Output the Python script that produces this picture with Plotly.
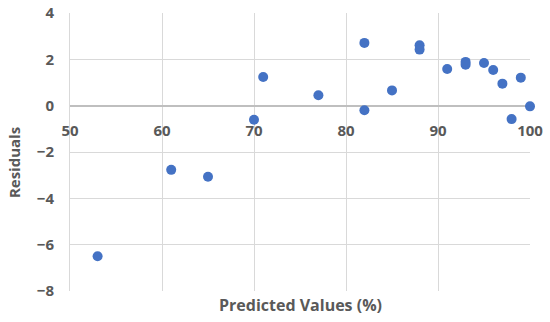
import plotly.graph_objects as go

predicted = [53, 61, 65, 70, 71, 77, 82, 82, 85, 88, 88, 91, 93, 93, 95, 96, 97, 98, 99, 100]
residuals = [-6.5, -2.77, -3.07, -0.61, 1.24, 0.45, 2.71, -0.2, 0.66, 2.61, 2.42, 1.58, 1.89, 1.77, 1.84, 1.54, 0.95, -0.58, 1.21, -0.03]
x_ticks = [50, 60, 70, 80, 90, 100]
y_ticks = [-8, -6, -4, -2, 0, 2, 4]

font_family = "Open Sans"
text_color = "#595959"
grid_color = "#d9d9d9"

fig = go.Figure()
fig.add_trace(go.Scatter(
    x=predicted, y=residuals, mode="markers",
    marker=dict(color="#4472C4", size=10),
    showlegend=False, cliponaxis=False,
))

y_min, y_max = -8, 4
fig.update_layout(
    template="none",
    width=550, height=322,
    margin=dict(l=70, r=20, t=13, b=31, autoexpand=False),
    paper_bgcolor="white", plot_bgcolor="white",
    xaxis=dict(
        range=[50, 100], tickvals=x_ticks, automargin=False,
        ticklabeloverflow="allow",
        anchor="free", position=(0 - y_min) / (y_max - y_min),
        showgrid=True, gridcolor=grid_color, gridwidth=1,
        zeroline=False, showline=False,
        ticks="", ticklabelstandoff=14,
        tickfont=dict(family=font_family, size=15, color=text_color, weight="bold"),
    ),
    yaxis=dict(
        range=[y_min, y_max], tickvals=y_ticks, automargin=False,
        ticklabeloverflow="allow",
        showgrid=True, gridcolor=grid_color, gridwidth=1,
        zeroline=True, zerolinecolor="#bfbfbf", zerolinewidth=1.5,
        showline=True, linecolor=grid_color, linewidth=1,
        ticks="", ticklabelstandoff=12,
        tickfont=dict(family=font_family, size=15, color=text_color, weight="bold"),
    ),
)
fig.add_annotation(
    text="Residuals", xref="paper", yref="paper",
    x=0, xshift=-56, xanchor="center", y=0.46, yanchor="middle",
    textangle=-90, showarrow=False,
    font=dict(family=font_family, size=15, color=text_color, weight="bold"),
)
fig.add_annotation(
    text="Predicted Values (%)", xref="paper", yref="paper",
    x=0.5, y=0, yshift=-14, yanchor="middle", showarrow=False,
    font=dict(family=font_family, size=16, color=text_color, weight="bold"),
)
fig.write_html("out.html", config={"displayModeBar": False},
               post_script="document.body.style.margin='0';")
